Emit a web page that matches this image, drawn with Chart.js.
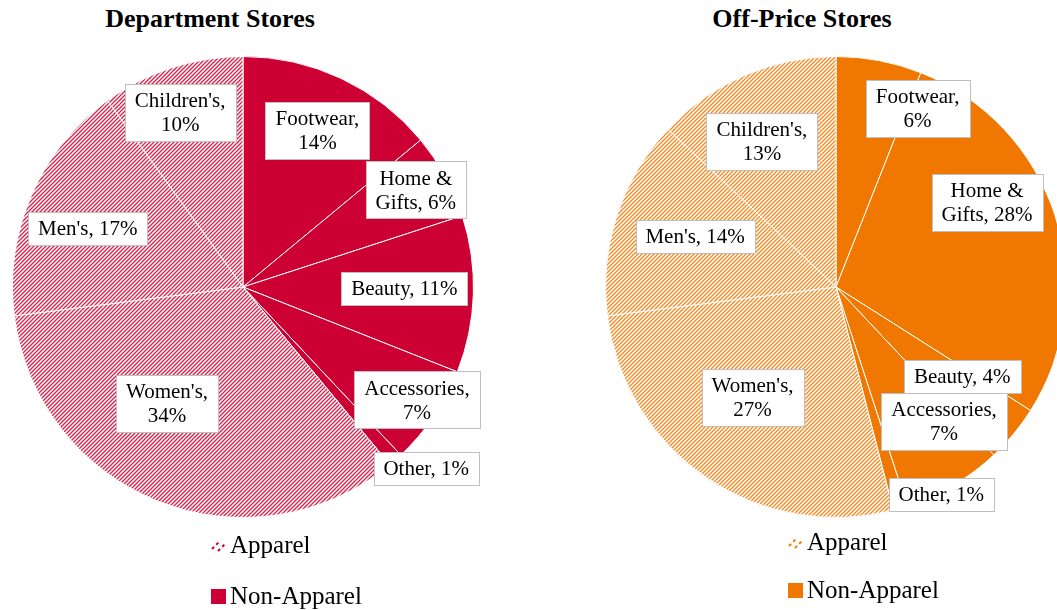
<!DOCTYPE html>
<html lang="en">
<head>
  <meta charset="UTF-8" />
  <title>Department Stores vs Off-Price Stores</title>
  <script src="https://cdn.jsdelivr.net/npm/chart.js"></script>
  <style>
    html, body { margin: 0; padding: 0; background: #fff; overflow: hidden; }
    body { width: 1057px; height: 610px; position: relative; font-family: 'Liberation Serif', 'Times New Roman', serif; }
    .title { position: absolute; top: 3px; width: 400px; text-align: center; font-weight: bold; font-size: 26px; line-height: 32px; color: #000; }
    canvas { position: absolute; top: 0; }
  </style>
</head>
<body>
  <div class="title" style="left:10px">Department Stores</div>
  <div class="title" style="left:602px">Off-Price Stores</div>
  <canvas id="deptChart" width="528" height="610" style="left:0"></canvas>
  <canvas id="offChart" width="560" height="610" style="left:528px"></canvas>

  <script>
    // categories, clockwise from 12 o'clock
    const categories = ['Footwear', 'Home & Gifts', 'Beauty', 'Accessories', 'Other', "Women's", "Men's", "Children's"];
    const groups = ['Non-Apparel', 'Non-Apparel', 'Non-Apparel', 'Non-Apparel', 'Non-Apparel', 'Apparel', 'Apparel', 'Apparel'];
    const deptShares = [14, 6, 11, 7, 1, 34, 17, 10];
    const offPriceShares = [6, 28, 4, 7, 1, 27, 14, 13];
    const legendLabels = ['Apparel', 'Non-Apparel'];

    function makeHatch(color) {
      const c = document.createElement('canvas');
      c.width = 8; c.height = 8;
      const g = c.getContext('2d');
      g.fillStyle = '#fff';
      g.fillRect(0, 0, 8, 8);
      g.strokeStyle = color;
      g.globalAlpha = 0.85;
      g.lineWidth = 1.35;
      for (let k = -8; k <= 16; k += 4) {
        g.beginPath();
        g.moveTo(k - 2, 10);
        g.lineTo(k + 10, -2);
        g.stroke();
      }
      return g.createPattern(c, 'repeat');
    }

    function wrapText(ctx, text, maxW) {
      const words = text.split(' ');
      const lines = [];
      let line = words[0];
      for (let i = 1; i < words.length; i++) {
        const test = line + ' ' + words[i];
        if (ctx.measureText(test).width > maxW) { lines.push(line); line = words[i]; }
        else line = test;
      }
      lines.push(line);
      return lines;
    }

    // boxed data labels: [radius fraction, angle nudge in degrees]
    const boxLabels = {
      id: 'boxLabels',
      afterDatasetsDraw(chart, args, opts) {
        const ctx = chart.ctx;
        const meta = chart.getDatasetMeta(0);
        const values = chart.data.datasets[0].data;
        ctx.save();
        ctx.font = '21px "Liberation Serif", serif';
        ctx.textAlign = 'center';
        ctx.textBaseline = 'middle';
        meta.data.forEach((arc, i) => {
          const p = arc.getProps(['x', 'y', 'startAngle', 'endAngle', 'outerRadius'], true);
          const [rf, da] = opts.place[i];
          const a = (p.startAngle + p.endAngle) / 2 + da * Math.PI / 180;
          const cx = p.x + Math.cos(a) * p.outerRadius * rf;
          const cy = p.y + Math.sin(a) * p.outerRadius * rf;
          const lines = wrapText(ctx, chart.data.labels[i] + ', ' + values[i] + '%', 113);
          const w = Math.round(Math.max(...lines.map(l => ctx.measureText(l).width)) + 20);
          const h = lines.length * 24 + 9;
          const bx = Math.round(cx - w / 2), by = Math.round(cy - h / 2);
          ctx.fillStyle = '#fff';
          ctx.fillRect(bx, by, w, h);
          ctx.strokeStyle = '#bfbfbf';
          ctx.lineWidth = 1;
          ctx.strokeRect(bx + 0.5, by + 0.5, w, h);
          ctx.fillStyle = '#000';
          lines.forEach((l, k) => ctx.fillText(l, cx, cy - (lines.length - 1) * 12 + k * 24 + 1));
        });
        ctx.restore();
      }
    };

    const stackedLegend = {
      id: 'stackedLegend',
      afterDraw(chart, args, opts) {
        const ctx = chart.ctx;
        ctx.save();
        ctx.font = '25px "Liberation Serif", serif';
        ctx.textBaseline = 'middle';
        legendLabels.forEach((name, k) => {
          const y = opts.rows[k];
          if (name === 'Apparel') {
            // sparse hatch marker
            ctx.strokeStyle = opts.color;
            ctx.lineWidth = 2;
            ctx.setLineDash([3, 3]);
            ctx.beginPath();
            ctx.moveTo(opts.x + 1, y + 4); ctx.lineTo(opts.x + 8, y - 3);
            ctx.moveTo(opts.x + 7, y + 6); ctx.lineTo(opts.x + 14, y - 1);
            ctx.stroke();
            ctx.setLineDash([]);
          } else {
            ctx.fillStyle = opts.color;
            ctx.fillRect(opts.x, y - 7, 15, 15);
          }
          ctx.fillStyle = '#000';
          ctx.fillText(name, opts.x + 19, y + 1);
        });
        ctx.restore();
      }
    };

    function buildPie(id, values, color, padding, place, legend) {
      const hatch = makeHatch(color);
      return new Chart(document.getElementById(id), {
        type: 'pie',
        data: {
          labels: categories,
          datasets: [{
            data: values,
            backgroundColor: groups.map(g => g === 'Apparel' ? hatch : color),
            borderColor: '#fff',
            borderWidth: 1
          }]
        },
        options: {
          responsive: false,
          animation: false,
          devicePixelRatio: 1,
          layout: { padding: padding },
          plugins: {
            legend: { display: false },
            tooltip: { enabled: false },
            title: { display: false },
            boxLabels: { place: place },
            stackedLegend: Object.assign({ color: color }, legend)
          }
        },
        plugins: [boxLabels, stackedLegend]
      });
    }

    buildPie('deptChart', deptShares, '#CC0033',
      { left: 12, top: 56, right: 54, bottom: 92 },
      [[0.75, 0.3], [0.86, -0.5], [0.70, -1.1], [0.90, -1.2], [1.12, -3.8], [0.605, 11.4], [0.72, -2.7], [0.805, -1.8]],
      { x: 211, rows: [545, 596] });

    buildPie('offChart', offPriceShares, '#F07800',
      { left: 77, top: 56, right: 21, bottom: 92 },
      [[0.85, 13.8], [0.75, -11.1], [0.67, -4.4], [0.75, -8.1], [1.01, -10.7], [0.60, 2.9], [0.65, 1.9], [0.71, -3.5]],
      { x: 260, rows: [542, 590] });
  </script>
</body>
</html>
